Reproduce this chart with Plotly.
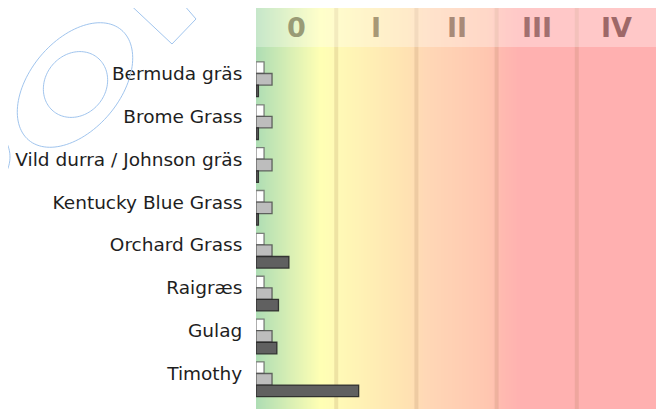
import numpy as np
import plotly.graph_objects as go

# ---------------- data ----------------
categories = ["Bermuda gräs", "Brome Grass", "Vild durra / Johnson gräs",
              "Kentucky Blue Grass", "Orchard Grass", "Raigræs", "Gulag", "Timothy"]
series_white = [0.10, 0.10, 0.10, 0.10, 0.10, 0.10, 0.10, 0.10]
series_light = [0.20, 0.20, 0.20, 0.20, 0.20, 0.20, 0.20, 0.20]
series_dark = [0.03, 0.03, 0.03, 0.03, 0.41, 0.28, 0.26, 1.28]
class_labels = ["0", "I", "II", "III", "IV"]
class_bounds = [0, 1, 2, 3, 4, 5]

# ---------------- styles ----------------
OFF = 8                      # page body margin
W, H = 664 - OFF, 409 - OFF
ML, MR, MT, MB = 256 - OFF, 7, 0, 0
PW, PH = W - ML - MR, H - MT - MB
STEP = 42.86                 # px per category
FIRST = 73.5 - OFF           # centre of first category (figure px)
label_colors = ["#999b76", "#a89876", "#a88a78", "#a27070", "#9e6868"]
bg_scale = [
    [0.00, "rgb(174,221,180)"],
    [0.16, "rgb(255,255,180)"],
    [0.20, "rgb(255,250,182)"],
    [0.38, "rgb(255,225,178)"],
    [0.42, "rgb(255,216,182)"],
    [0.58, "rgb(255,198,176)"],
    [0.61, "rgb(255,186,176)"],
    [0.66, "rgb(255,177,176)"],
    [1.00, "rgb(255,176,176)"],
]

fig = go.Figure()

# background gradient (on a hidden numeric y axis)
xs = np.linspace(class_bounds[0], class_bounds[-1], 501)
fig.add_trace(go.Heatmap(x=xs, y=[0, 1], z=[xs, xs], colorscale=bg_scale,
                         zmin=class_bounds[0], zmax=class_bounds[-1],
                         zsmooth="best", showscale=False, hoverinfo="skip",
                         xaxis="x", yaxis="y"))

# class boundary lines
lx, ly = [], []
for b in class_bounds[1:-1]:
    lx += [b, b, None]
    ly += [0, 1, None]
fig.add_trace(go.Scatter(x=lx, y=ly, mode="lines",
                         line=dict(color="rgba(150,115,70,0.16)", width=4),
                         hoverinfo="skip", showlegend=False, xaxis="x", yaxis="y"))

# bars
bar_w = 0.27
for vals, fill, edge, off, name in [
    (series_white, "#ffffff", "rgba(90,90,90,0.75)", -bar_w, "A"),
    (series_light, "#bdbdbd", "rgba(70,70,70,0.8)", 0.0, "B"),
    (series_dark, "#606060", "rgba(40,40,40,0.9)", bar_w, "C"),
]:
    fig.add_trace(go.Bar(y=categories, x=vals, orientation="h", name=name,
                         width=bar_w, offset=off, marker=dict(color=fill,
                         line=dict(color=edge, width=1.3)),
                         showlegend=False, xaxis="x", yaxis="y2"))


def to_paper(px, py):
    """reference page pixel -> paper coords"""
    fx, fy = px - OFF, py - OFF
    return (fx - ML) / PW, (H - MB - fy) / PH


# header band
shapes = [dict(type="rect", xref="paper", yref="paper", x0=0, x1=1,
               y0=to_paper(0, 47)[1], y1=1, fillcolor="rgba(255,255,255,0.3)",
               line=dict(width=0), layer="above")]


def path_from(points, close):
    pts = [to_paper(x, y) for x, y in points]
    s = "M " + " L ".join(f"{x:.5f},{y:.5f}" for x, y in pts)
    return s + (" Z" if close else "")


def ellipse(cx, cy, a, b, ang_deg, n=120):
    t = np.linspace(0, 2 * np.pi, n, endpoint=False)
    th = np.radians(ang_deg)
    ux, uy = np.cos(th), -np.sin(th)
    vx, vy = np.sin(th), np.cos(th)
    return [(cx + a * np.cos(k) * ux + b * np.sin(k) * vx,
             cy + a * np.cos(k) * uy + b * np.sin(k) * vy) for k in t]


wm = dict(color="rgba(150,190,235,0.9)", width=1)
for pts, close in [
    (ellipse(75, 85, 72, 45, 50), True),
    (ellipse(75.5, 84.5, 34.7, 30.2, 50), True),
    ([(122, -3), (172, 44), (196, 19), (177, -3)], False),
    ([(-3, 20), (18, -3)], False),
    (ellipse(-22, 157, 32, 32, 0), True),
]:
    shapes.append(dict(type="path", xref="paper", yref="paper",
                       path=path_from(pts, close), line=wm, layer="above"))

annotations = []
for i, lab in enumerate(class_labels):
    annotations.append(dict(x=(class_bounds[i] + class_bounds[i + 1]) / 2,
                            y=to_paper(0, 27.5)[1], xref="x", yref="paper",
                            text=f"<b>{lab}</b>", showarrow=False,
                            font=dict(family="DejaVu Sans", size=27,
                                      color=label_colors[i]),
                            xanchor="center", yanchor="middle"))

fig.update_layout(
    width=W, height=H,
    margin=dict(l=ML, r=MR, t=MT, b=MB, pad=0),
    paper_bgcolor="white", plot_bgcolor="rgba(0,0,0,0)",
    barmode="overlay",
    xaxis=dict(range=[class_bounds[0], class_bounds[-1]], showticklabels=False,
               showgrid=False, zeroline=False, showline=False, ticks=""),
    yaxis=dict(range=[0, 1], visible=False, fixedrange=True),
    yaxis2=dict(overlaying="y", side="left", anchor="x", type="category",
                categoryorder="array", categoryarray=categories,
                range=[(H - MB - FIRST) / STEP, -(FIRST - MT) / STEP],
                showgrid=False, zeroline=False, showline=False,
                ticks="outside", ticklen=9, tickcolor="rgba(0,0,0,0)",
                tickfont=dict(family="DejaVu Sans", size=18.5, color="#1e1e1e")),
    shapes=shapes, annotations=annotations,
    showlegend=False,
)

fig.write_html("out.html")
